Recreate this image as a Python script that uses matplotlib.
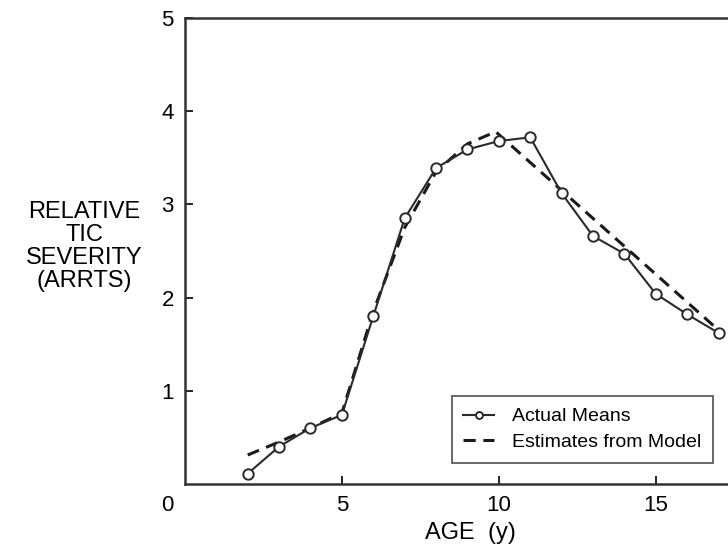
import matplotlib
matplotlib.use('Agg')
import matplotlib.pyplot as plt

plt.rcParams['font.family'] = ['Liberation Sans', 'DejaVu Sans']

# actual means, age 2..17
age = [2, 3, 4, 5, 6, 7, 8, 9, 10, 11, 12, 13, 14, 15, 16, 17]
means = [0.11, 0.40, 0.60, 0.74, 1.80, 2.85, 3.39, 3.59, 3.68, 3.72,
         3.12, 2.66, 2.47, 2.04, 1.82, 1.62]

# model estimates (dashed)
age_model = [2, 3, 4, 5, 6, 7, 8, 9, 9.9, 11, 12, 13, 14, 15, 16, 17]
model = [0.31, 0.45, 0.60, 0.76, 1.85, 2.75, 3.35, 3.65, 3.78, 3.45,
         3.15, 2.85, 2.55, 2.25, 1.95, 1.65]

xticks = [5, 10, 15]
yticks = [1, 2, 3, 4, 5]

fig = plt.figure(figsize=(7.28, 5.48), dpi=100)
ax = fig.add_axes([0.254, 0.117, 0.746, 0.850])

ax.plot(age_model, model, color='#1a1a1a', lw=2.2, ls=(0, (4, 2.5)),
        label='Estimates from Model', zorder=2)
ax.plot(age, means, color='#2a2a2a', lw=1.5, marker='o', ms=7.5,
        mfc='white', mec='#2a2a2a', mew=1.4, label='Actual Means', zorder=3)

ax.set_xlim(0, 17.3)
ax.set_ylim(0, 5)
ax.set_xticks(xticks)
ax.set_yticks(yticks)
ax.tick_params(direction='in', length=6, width=1.2, labelsize=16, pad=8)
for s in ['left', 'bottom', 'top']:
    ax.spines[s].set_linewidth(1.8)
    ax.spines[s].set_color('#333333')
ax.spines['right'].set_visible(False)

# shared origin label
ax.text(-0.55, -0.23, '0', fontsize=16, ha='center', va='center')

ax.text(-3.2, 2.55, 'RELATIVE\nTIC\nSEVERITY\n(ARRTS)', fontsize=17,
        ha='center', va='center', linespacing=1.05)
ax.text(9.1, -0.53, 'AGE  (y)', fontsize=17, ha='center', va='center')

h, l = ax.get_legend_handles_labels()
leg = ax.legend(h[::-1], l[::-1], loc='lower right', bbox_to_anchor=(0.99, 0.025),
                fontsize=14, frameon=True, fancybox=False, handlelength=1.6,
                borderpad=0.6, labelspacing=0.4, handletextpad=0.9)
leg.get_frame().set_edgecolor('#333333')
leg.get_frame().set_linewidth(1.3)
leg.legend_handles[0].set_markersize(5)

fig.savefig('out.png', dpi=100)
